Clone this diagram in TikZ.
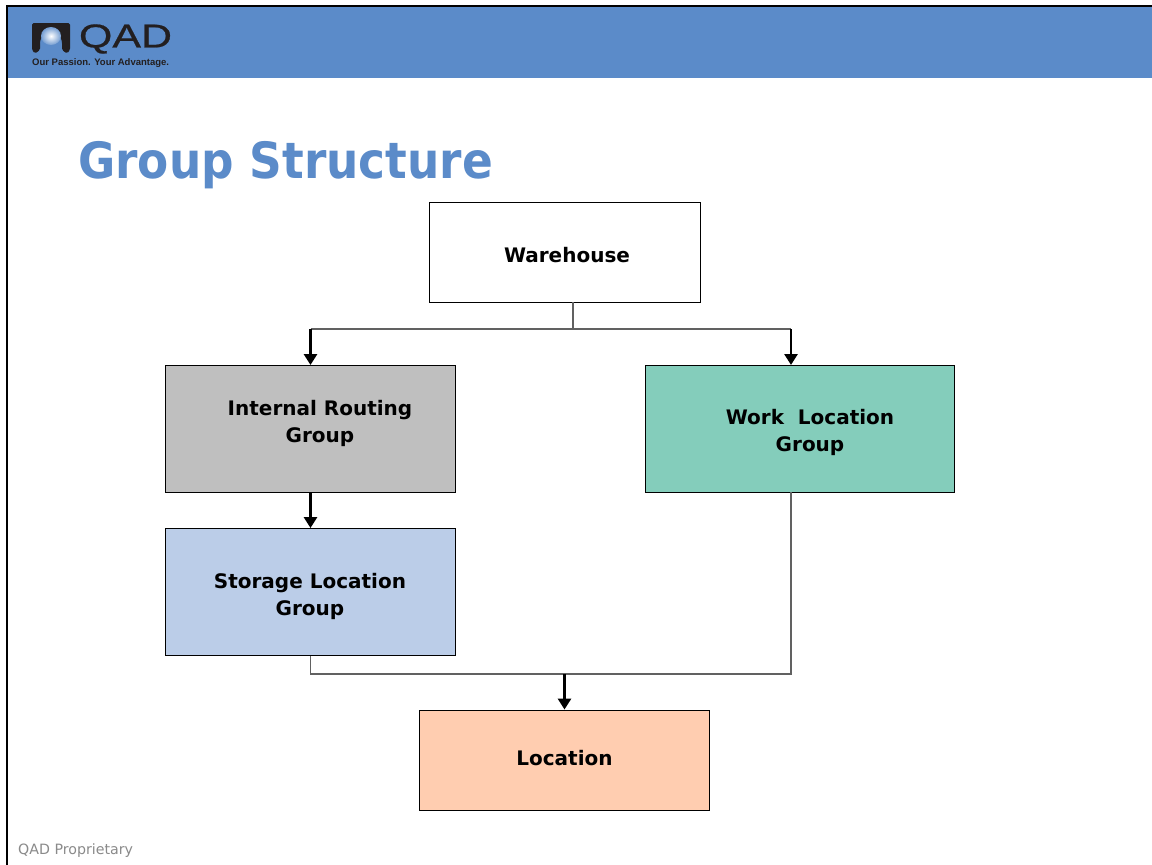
\documentclass[tikz,border=0pt]{standalone}
\usepackage{fontspec}
\setmainfont{DejaVu Sans}
\newfontfamily\lab{Liberation Sans}
\usetikzlibrary{arrows.meta,calc}
\definecolor{hdr}{HTML}{5B8BC9}
\definecolor{ttl}{HTML}{5B8BC9}
\definecolor{gbox}{HTML}{BFBFBF}
\definecolor{tbox}{HTML}{84CDBB}
\definecolor{bbox}{HTML}{BBCDE8}
\definecolor{obox}{HTML}{FFCDB0}
\definecolor{logo}{HTML}{231F20}
\definecolor{foot}{HTML}{8A8A8A}
\tikzset{
 x=1pt,y=-1pt,
 box/.style={draw=black,line width=0.9pt,minimum width=0,inner sep=0},
 lbl/.style={font=\fontsize{20}{27}\selectfont\bfseries,align=center,text=black,inner sep=0},
 thin link/.style={draw=black!62,line width=1.2pt},
 arrow link/.style={draw=black,line width=2.8pt,-{Triangle[length=11pt,width=13pt]}},
}
\begin{document}
\begin{tikzpicture}
\useasboundingbox (0,0) rectangle (1152,865);
\fill[white] (0,0) rectangle (1152,865);
\fill[hdr] (7,6) rectangle (1152,78);
\fill[black] (6,5) rectangle (1152,7);
\fill[black] (6,5) rectangle (8,865);
% logo
\fill[logo,rounded corners=1.5pt] (32,23) -- (70,23) -- (70,50) -- (67,53.5) -- (62,50) -- (62,42)
  .. controls (60,34) and (57,30) .. (51,29) .. controls (45,30) and (42,34) .. (40,42) -- (40,50) -- (35,53.5) -- (32,50) -- cycle;
\shade[inner color=white,outer color=hdr!85!white] (51,36) ellipse (10 and 9);
\node[font=\fontsize{33}{33}\selectfont,text=logo,inner sep=0,xscale=1.3] (logotext) at (125.5,39) {\lab\addfontfeatures{FakeBold=0.6}QAD};
\node[font=\fontsize{9.5}{10}\selectfont\bfseries,text=logo,inner sep=0,anchor=west] (slogan) at (32,63.5) {\lab Our Passion. Your Advantage.};
\node[font=\fontsize{50}{50}\selectfont\bfseries,text=ttl,inner sep=0,anchor=base west,xscale=0.908] (title) at (78,178) {Group Structure};
% boxes
\node[box,fill=white,minimum width=271pt,minimum height=100pt] (wh) at (564.5,252) {};
\node[box,fill=gbox,minimum width=290pt,minimum height=127pt] (irg) at (310.5,428.5) {};
\node[box,fill=tbox,minimum width=309pt,minimum height=127pt] (wlg) at (800,428.5) {};
\node[box,fill=bbox,minimum width=290pt,minimum height=127pt] (slg) at (310.5,592) {};
\node[box,fill=obox,minimum width=290pt,minimum height=100pt] (loc) at (564.5,760) {};
\node[lbl] (t1) at (567,255) {Warehouse};
\node[lbl] (t2) at (320,423.5) {Internal Routing\\Group};
\node[lbl] (t3) at (810,432.5) {Work\ \ Location\\Group};
\node[lbl] (t4) at (310,596) {Storage Location\\Group};
\node[lbl] (t5) at (564.5,758.5) {Location};
% connectors
\coordinate (a) at (573,302);
\coordinate (b) at (573,329);
\coordinate (cl) at (310.5,329);
\coordinate (cr) at (791,329);
\draw[thin link] (a) -- (b);
\draw[thin link] (cl) -- (cr);
\draw[arrow link] (cl) -- (310.5,365);
\draw[arrow link] (cr) -- (791,365);
\draw[arrow link] (irg.south) -- (slg.north);
\coordinate (d) at (791,492);
\coordinate (e) at (791,674);
\coordinate (f) at (310.5,674);
\draw[thin link] (slg.south) -- (f) -- (e) -- (d);
\draw[arrow link] (564.5,674) -- (loc.north);
\node[font=\fontsize{14.2}{16}\selectfont,text=foot,inner sep=0,anchor=base west] (ft) at (18,854) {QAD Proprietary};
\end{tikzpicture}
\end{document}
